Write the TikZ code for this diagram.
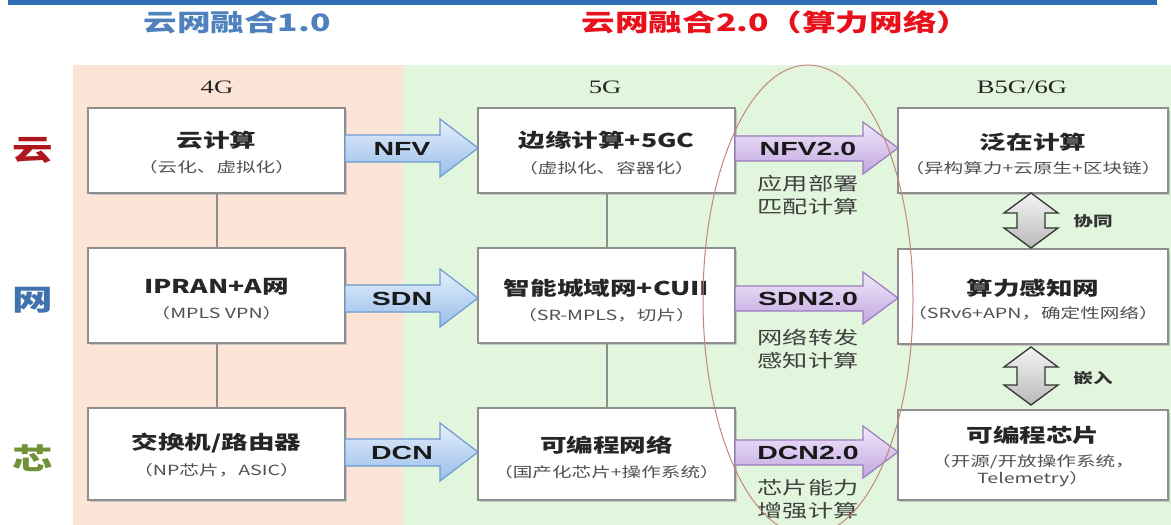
\documentclass[tikz,border=0pt]{standalone}
\usepackage{fontspec}
\usetikzlibrary{shadows}
\newfontfamily\cjk[FakeStretch=1.4]{Noto Sans CJK SC}
\newfontfamily\arialx[FakeStretch=1.5]{Liberation Sans}
\newfontfamily\timesx[FakeStretch=1.4]{Liberation Serif}
\definecolor{barblue}{HTML}{2F6DB5}
\definecolor{titleblue}{HTML}{4F81BD}
\definecolor{titlered}{HTML}{E8101A}
\definecolor{peach}{HTML}{FCE5D6}
\definecolor{mint}{HTML}{E1F6DC}
\definecolor{boxgray}{HTML}{8E8E8E}
\definecolor{subgray}{HTML}{505050}
\definecolor{yunred}{HTML}{B0171C}
\definecolor{wangblue}{HTML}{3F72AE}
\definecolor{xingreen}{HTML}{72923A}
\definecolor{ellred}{HTML}{C4857A}
\definecolor{bluetop}{HTML}{E6F0FC}
\definecolor{bluebot}{HTML}{98BDEA}
\definecolor{blueedge}{HTML}{6E9BD1}
\definecolor{purtop}{HTML}{F1E8FA}
\definecolor{purbot}{HTML}{C2A6E2}
\definecolor{puredge}{HTML}{9A7CC0}
\begin{document}
\begin{tikzpicture}[x=1pt,y=-1pt,
  box/.style={draw=boxgray, line width=2pt, fill=white, inner sep=0pt,
    general shadow={fill=black!22, shadow xshift=1.5pt, shadow yshift=-1.5pt}},
  maintxt/.style={font=\cjk\bfseries\fontsize{19}{23}\selectfont, text=black!85, inner sep=0pt},
  subtxt/.style={font=\cjk\fontsize{14}{17}\selectfont, text=subgray, inner sep=0pt, align=center},
  conn/.style={draw=boxgray, line width=2pt},
  bluearrow/.style={draw=blueedge, line width=1.2pt, top color=bluetop, bottom color=bluebot},
  purarrow/.style={draw=puredge, line width=1.2pt, top color=purtop, bottom color=purbot},
  alabel/.style={font=\arialx\bfseries\fontsize{19}{22}\selectfont, text=black!90, inner sep=0pt},
  ptext/.style={font=\cjk\fontsize{18}{23}\selectfont, text=black!75, align=center, inner sep=0pt},
  dbl/.style={draw=black!80, line width=1.3pt, top color=gray!8, bottom color=gray!55},
  dbltxt/.style={font=\cjk\bfseries\fontsize{14}{17}\selectfont, text=black!80, inner sep=0pt},
  side/.style={font=\cjk\bfseries\fontsize{29}{32}\selectfont, inner sep=0pt},
  gen/.style={font=\timesx\fontsize{19}{22}\selectfont, text=black!85, inner sep=0pt},
  title/.style={font=\cjk\bfseries\fontsize{24}{28}\selectfont, inner sep=0pt}]
\useasboundingbox (0,0) rectangle (1171,525);
\clip (0,0) rectangle (1171,525);
\fill[white] (0,0) rectangle (1171,525);
% top bar
\fill[barblue] (8,0) rectangle (1157,5);
% panels
\fill[peach] (73,65) rectangle (403,525);
\fill[mint] (403,65) rectangle (1171,525);
% titles
\node[title, text=titleblue] (t1) at (237,22) {云网融合1.0};
\node[title, text=titlered] (t2) at (776,22) {云网融合2.0（算力网络）};
% generations
\node[gen] (g4) at (217,87) {4G};
\node[gen] (g5) at (605,87) {5G};
\node[gen] (g6) at (1022,87) {B5G/6G};
% side labels
\node[side, text=yunred] (sy) at (33,150) {云};
\node[side, text=wangblue] (sw) at (33,300) {网};
\node[side, text=xingreen] (sx) at (33,458) {芯};
% boxes
\node[box, minimum width=257pt, minimum height=85pt] (b11) at (216.5,150.5) {};
\node[box, minimum width=257pt, minimum height=95pt] (b21) at (216.5,295.5) {};
\node[box, minimum width=257pt, minimum height=92pt] (b31) at (216.5,454) {};
\node[box, minimum width=257pt, minimum height=85pt] (b12) at (606.5,150.5) {};
\node[box, minimum width=257pt, minimum height=95pt] (b22) at (606.5,295.5) {};
\node[box, minimum width=257pt, minimum height=92pt] (b32) at (606.5,454) {};
\node[box, minimum width=270pt, minimum height=85pt] (b13) at (1033,150.5) {};
\node[box, minimum width=270pt, minimum height=95pt] (b23) at (1033,296.5) {};
\node[box, minimum width=270pt, minimum height=90pt] (b33) at (1033,455) {};
% vertical connectors
\draw[conn] (b11) -- (b21);
\draw[conn] (b21) -- (b31);
\draw[conn] (b12) -- (b22);
\draw[conn] (b22) -- (b32);
% box texts
\node[maintxt] (m11) at (216.5,140) {云计算};
\node[subtxt] (s11) at (216.5,167) {（云化、虚拟化）};
\node[maintxt] (m21) at (216.5,287) {IPRAN+A网};
\node[subtxt] (s21) at (216.5,313) {（MPLS VPN）};
\node[maintxt] (m31) at (216.5,443) {交换机/路由器};
\node[subtxt] (s31) at (216.5,470) {（NP芯片，ASIC）};
\node[maintxt] (m12) at (606.5,140) {边缘计算+5GC};
\node[subtxt] (s12) at (606.5,168) {（虚拟化、容器化）};
\node[maintxt] (m22) at (606.5,288) {智能城域网+CUII};
\node[subtxt] (s22) at (606.5,315) {（SR-MPLS，切片）};
\node[maintxt] (m32) at (606.5,445) {可编程网络};
\node[subtxt] (s32) at (606.5,472) {（国产化芯片+操作系统）};
\node[maintxt] (m13) at (1033,142) {泛在计算};
\node[subtxt] (s13) at (1033,168) {（异构算力+云原生+区块链）};
\node[maintxt] (m23) at (1033,288) {算力感知网};
\node[subtxt] (s23) at (1033,313) {（SRv6+APN，确定性网络）};
\node[maintxt] (m33) at (1033,435) {可编程芯片};
\node[subtxt] (s33) at (1033,471) {（开源/开放操作系统，\\Telemetry）};
% blue and purple arrows
\foreach \cy in {148,298,452}{
  \draw[bluearrow] (345,\cy-13) -- (440,\cy-13) -- (440,\cy-29) -- (478,\cy) -- (440,\cy+29) -- (440,\cy+14) -- (345,\cy+14) -- cycle;
  \draw[purarrow] (735,\cy-12) -- (863,\cy-12) -- (863,\cy-26) -- (898,\cy) -- (863,\cy+26) -- (863,\cy+13) -- (735,\cy+13) -- cycle;
}
\node[alabel] (nfv) at (402,149) {NFV};
\node[alabel] (sdn) at (402,299) {SDN};
\node[alabel] (dcn) at (402,453) {DCN};
\node[alabel] (nfv2) at (808,149) {NFV2.0};
\node[alabel] (sdn2) at (808,299) {SDN2.0};
\node[alabel] (dcn2) at (808,453) {DCN2.0};
\node[ptext] (p1) at (808,195) {应用部署\\匹配计算};
\node[ptext] (p2) at (808,349) {网络转发\\感知计算};
\node[ptext] (p3) at (808,499) {芯片能力\\增强计算};
% double arrows
\foreach \t/\b in {193/248, 347/405}{
  \draw[dbl] (1031,\t) -- (1058,\t+20) -- (1045,\t+20) -- (1045,\b-20) -- (1058,\b-20) -- (1031,\b) -- (1004,\b-20) -- (1017,\b-20) -- (1017,\t+20) -- (1004,\t+20) -- cycle;
}
\node[dbltxt] (xt) at (1093,221) {协同};
\node[dbltxt] (qr) at (1093,378) {嵌入};
% ellipse
\draw[ellred, line width=1pt] (808,300) ellipse [x radius=105, y radius=235];
\end{tikzpicture}
\end{document}
